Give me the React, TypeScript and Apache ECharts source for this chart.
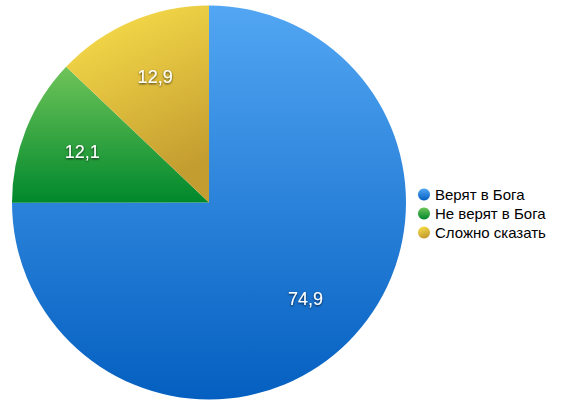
import React, { useEffect, useRef } from "react";
import * as echarts from "echarts";

const categories = ["Верят в Бога", "Не верят в Бога", "Сложно сказать"];
const values = [74.9, 12.1, 12.9];
const labelTexts = ["74,9", "12,1", "12,9"];
const gradTop = ["#52a6f3", "#6fc459", "#fce24c"];
const gradBottom = ["#045fc0", "#00882c", "#c49d30"];

export default function App() {
  const ref = useRef<HTMLDivElement>(null);
  useEffect(() => {
    if (!ref.current) return;
    const chart = echarts.init(ref.current, null, { renderer: "svg" });
    const grad = (i: number, diag: boolean) =>
      new echarts.graphic.LinearGradient(0, 0, diag ? 0.35 : 0, 1, [
        { offset: 0, color: gradTop[i] },
        { offset: 1, color: gradBottom[i] },
      ]);
    const mainData = categories.map((name, i) => ({
      name,
      value: values[i],
      itemStyle: { color: grad(i, i === 2) },
    }));
    const labelData = categories.map((name, i) => ({
      name: name + " ",
      value: values[i],
      label: { formatter: labelTexts[i] },
    }));
    chart.setOption({
      animation: false,
      legend: {
        orient: "vertical",
        left: 413,
        top: 182,
        itemWidth: 12,
        itemHeight: 12,
        itemGap: 4,
        icon: "circle",
        data: categories,
        textStyle: {
          fontFamily: "Liberation Sans, Arial, sans-serif",
          fontSize: 15,
          color: "#000",
          lineHeight: 14,
          padding: [0, 0, 0, 0],
        },
      },
      series: [
        {
          type: "pie",
          center: [209, 202.5],
          radius: [0, 197],
          startAngle: 90,
          clockwise: true,
          silent: true,
          label: { show: false },
          labelLine: { show: false },
          data: mainData,
        },
        {
          type: "pie",
          center: [209, 202.5],
          radius: [70, 197],
          startAngle: 90,
          clockwise: true,
          silent: true,
          legendHoverLink: false,
          itemStyle: { color: "rgba(0,0,0,0)" },
          label: {
            show: true,
            position: "inside",
            color: "#fff",
            fontSize: 18,
            fontFamily: "Liberation Sans, Arial, sans-serif",
            textShadowColor: "rgba(0,0,0,0.75)",
            textShadowBlur: 2,
            textShadowOffsetX: 0,
            textShadowOffsetY: 1,
          },
          labelLine: { show: false },
          data: labelData,
        },
      ],
    });
    return () => chart.dispose();
  }, []);
  return (
    <div
      ref={ref}
      style={{ position: "fixed", left: 0, top: 0, width: 569, height: 406, background: "#fff" }}
    />
  );
}
